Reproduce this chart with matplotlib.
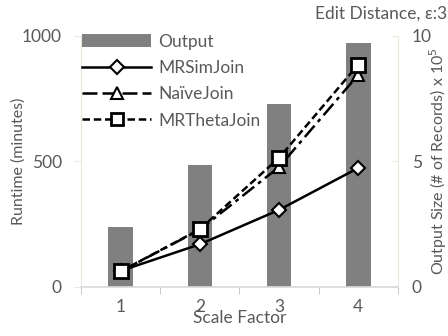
import matplotlib
matplotlib.use("Agg")
import matplotlib.pyplot as plt
from matplotlib.patches import Patch
from matplotlib.lines import Line2D

plt.rcParams['font.family'] = ['Lato', 'DejaVu Sans']

scale_factors = [1, 2, 3, 4]
output_size = [2.4, 4.85, 7.3, 9.72]
mrsimjoin = [64, 170, 307, 474]
naivejoin = [62, 228, 478, 845]
mrthetajoin = [62, 230, 514, 886]

gray_txt = '#595959'
spine_col = '#ebe8dc'
fs = 12.5

fig = plt.figure(figsize=(4.48, 3.36), dpi=100)
ax = fig.add_axes([0.181, 0.146, 0.707, 0.747])
ax2 = ax.twinx()

x = list(range(len(scale_factors)))
ax2.bar(x, output_size, width=0.31, color='#808080', zorder=1)
ax2.set_ylim(0, 10)
ax2.set_yticks([0, 5, 10])

ax.set_zorder(ax2.get_zorder() + 1)
ax.patch.set_visible(False)

ax.plot(x, mrsimjoin, color='black', lw=1.8, marker='D', ms=7, mfc='white',
        mec='black', mew=1.5, zorder=5)
ax.plot(x, naivejoin, color='black', lw=1.8, dashes=(6, 2, 1.5, 2), marker='^', ms=8,
        mfc='white', mec='black', mew=1.5, zorder=4)
ax.plot(x, mrthetajoin, color='black', lw=1.8, dashes=(3, 1.5), marker='s', ms=10,
        mfc='white', mec='black', mew=2, zorder=6)

ax.set_ylim(0, 1000)
ax.set_yticks([0, 500, 1000])
ax.set_xlim(-0.5, len(x) - 0.5)
ax.set_xticks(x)
ax.set_xticklabels([str(s) for s in scale_factors])
ax.set_xticks([i - 0.5 for i in range(len(x) + 1)], minor=True)
ax.tick_params(axis='x', which='major', length=0, pad=9, labelsize=fs, labelcolor=gray_txt)
ax.tick_params(axis='x', which='minor', length=5, color='#bfbfbf', direction='out')

for a in (ax, ax2):
    a.spines['top'].set_visible(False)
ax.spines['left'].set_color(spine_col)
ax.spines['right'].set_visible(False)
ax.spines['bottom'].set_color('#d9d9d9')
ax.spines['bottom'].set_linewidth(1.2)
ax2.spines['right'].set_color(spine_col)
ax2.spines['left'].set_visible(False)
ax2.spines['bottom'].set_visible(False)

ax.tick_params(axis='y', length=5, color=spine_col, labelsize=fs, labelcolor=gray_txt, pad=9)
ax2.tick_params(axis='y', length=5, color=spine_col, labelsize=fs, labelcolor=gray_txt,
                direction='in', pad=10)

ax.set_ylabel('Runtime (minutes)', fontsize=11.5, color=gray_txt)
ax.yaxis.label.set_va('center')
ax.yaxis.set_label_coords(-0.199, 0.5)
ax2.set_ylabel('Output Size (# of Records) x 10$^5$', fontsize=11.5, color=gray_txt)
ax2.yaxis.label.set_va('center')
ax2.yaxis.set_label_coords(1.127, 0.5)
ax.set_xlabel('Scale Factor', fontsize=fs, color=gray_txt, labelpad=-4)

fig.text(0.999, 0.958, 'Edit Distance, ε:3', ha='right', va='center', fontsize=fs, color=gray_txt)

handles = [
    Patch(facecolor='#808080'),
    Line2D([], [], color='black', lw=1.8, marker='D', ms=7, mfc='white', mec='black', mew=1.5),
    Line2D([], [], color='black', lw=1.8, dashes=(6, 2), marker='^', ms=8, mfc='white', mec='black', mew=1.5),
    Line2D([], [], color='black', lw=1.8, dashes=(3, 1.5), marker='s', ms=8, mfc='white', mec='black', mew=2),
]
labels = ['Output', 'MRSimJoin', 'NaïveJoin', 'MRThetaJoin']
leg = ax.legend(handles, labels, loc='upper left', bbox_to_anchor=(-0.036, 1.058), frameon=False,
                fontsize=fs, handlelength=4.0, handleheight=0.8, handletextpad=0.4,
                labelspacing=0.6, borderaxespad=0.3, labelcolor=gray_txt)

fig.savefig('out.png', dpi=100)
